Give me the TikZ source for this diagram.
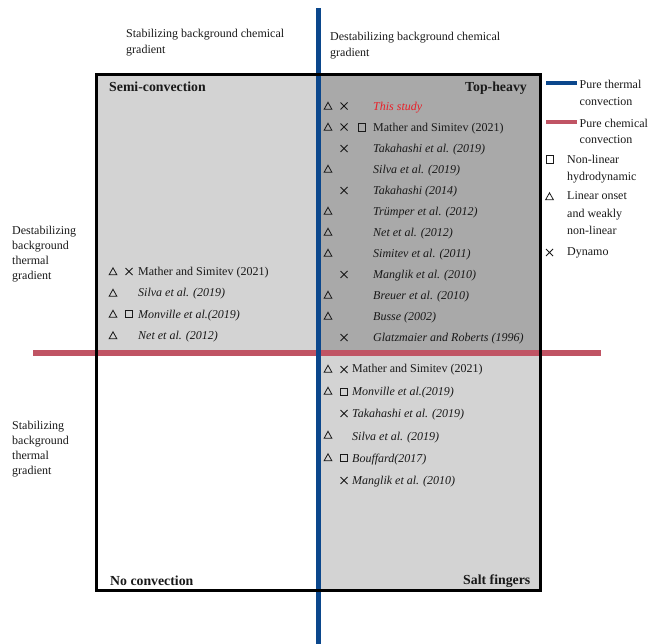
\documentclass[tikz,border=0pt]{standalone}
\usepackage{fontspec}
\setmainfont{Liberation Serif}
\definecolor{thermblue}{RGB}{11,71,140}
\definecolor{chemred}{RGB}{192,84,100}
\definecolor{lgray}{RGB}{211,211,211}
\definecolor{dgray}{RGB}{169,169,169}
\definecolor{studyred}{RGB}{232,32,40}
\definecolor{txtcol}{RGB}{25,25,25}
\begin{document}
\begin{tikzpicture}[x=1pt,y=-1pt,
  txt/.style={anchor=base west, inner sep=0pt, text=txtcol, font=\fontsize{12}{14}\selectfont},
  cit/.style={txt, font=\fontsize{12}{14}\selectfont\itshape},
  ttlw/.style={anchor=base west, inner sep=0pt, text=txtcol, font=\fontsize{13.8}{16}\selectfont\bfseries},
  ttle/.style={anchor=base east, inner sep=0pt, text=txtcol, font=\fontsize{13.8}{16}\selectfont\bfseries},
  sym/.style={line width=0.8pt, draw=txtcol},
  tri/.pic={\draw[sym,pic actions] (-3.9,3.3) -- (3.9,3.3) -- (0,-3.7) -- cycle;},
  crs/.pic={\draw[sym,pic actions] (-3.5,-3.5) -- (3.5,3.5) (-3.5,3.5) -- (3.5,-3.5);},
  sqr/.pic={\draw[sym,pic actions] (-3.6,-3.6) rectangle (3.6,3.6);},
  red/.style={draw=studyred}
]
\useasboundingbox (0,0) rectangle (648,644);
% quadrant fills
\fill[lgray] (96.7,74.3) rectangle (318.3,352.7);
\fill[dgray] (318.3,74.3) rectangle (540.7,352.7);
\fill[lgray] (318.3,352.7) rectangle (540.7,590.5);
% axes
\coordinate (rl) at (33.3,352.7);
\coordinate (rr) at (601,352.7);
\coordinate (bt) at (318.3,8.5);
\coordinate (bb) at (318.3,644);
\draw[chemred, line width=6pt] (rl) -- (rr);
\draw[thermblue, line width=5.4pt] (bt) -- (bb);
% frame
\draw[black, line width=2.5pt] (96.7,74.3) rectangle (540.7,590.5);

% top labels
\node[txt] (sc1) at (126,38) {Stabilizing background chemical};
\node[txt] (sc2) at (126,54) {gradient};
\node[txt] (dc1) at (330,41) {Destabilizing background chemical};
\node[txt] (dc2) at (330,57) {gradient};
% left labels
\node[txt] (dt1) at (12,234.5) {Destabilizing};
\node[txt] (dt2) at (12,249.5) {background};
\node[txt] (dt3) at (12,264.5) {thermal};
\node[txt] (dt4) at (12,279.5) {gradient};
\node[txt] (st1) at (12,429.5) {Stabilizing};
\node[txt] (st2) at (12,444.5) {background};
\node[txt] (st3) at (12,459.5) {thermal};
\node[txt] (st4) at (12,474.5) {gradient};

% quadrant titles
\node[ttlw] (semi) at (109,92) {Semi-convection};
\node[ttle] (top) at (527,92) {Top-heavy};
\node[ttlw] (noc) at (110,585) {No convection};
\node[ttle] (salt) at (530.5,584) {Salt fingers};

% top-right entries
\pic[red] at (328,106) {tri}; \pic[red] at (344,106) {crs};
\node[cit, text=studyred] (tr0) at (373,110.5) {This study};
\pic at (328,127) {tri}; \pic at (344,127) {crs}; \pic at (362,127.5) {sqr};
\node[txt] (tr1) at (373,131.5) {Mather and Simitev (2021)};
\pic at (344,148.5) {crs};
\node[cit] (tr2) at (373,152.5) {Takahashi et al. (2019)};
\pic at (328,169) {tri};
\node[cit] (tr3) at (373,173.5) {Silva et al. (2019)};
\pic at (344,190.5) {crs};
\node[cit] (tr4) at (373,194.5) {Takahashi (2014)};
\pic at (328,211) {tri};
\node[cit] (tr5) at (373,215.5) {Trümper et al. (2012)};
\pic at (328,232) {tri};
\node[cit] (tr6) at (373,236.5) {Net et al. (2012)};
\pic at (328,253) {tri};
\node[cit] (tr7) at (373,257.5) {Simitev et al. (2011)};
\pic at (344,274.5) {crs};
\node[cit] (tr8) at (373,278.5) {Manglik et al. (2010)};
\pic at (328,295) {tri};
\node[cit] (tr9) at (373,299.5) {Breuer et al. (2010)};
\pic at (328,316) {tri};
\node[cit] (tr10) at (373,320.5) {Busse (2002)};
\pic at (344,337.5) {crs};
\node[cit] (tr11) at (373,341.5) {Glatzmaier and Roberts (1996)};

% top-left entries
\pic at (113,271.5) {tri}; \pic at (129,271.5) {crs};
\node[txt] (tl0) at (138,275.7) {Mather and Simitev (2021)};
\pic at (113,293) {tri};
\node[cit] (tl1) at (138,296.9) {Silva et al. (2019)};
\pic at (113,314) {tri}; \pic at (129,314.2) {sqr};
\node[cit] (tl2) at (138,318.1) {Monville et al.(2019)};
\pic at (113,335.5) {tri};
\node[cit] (tl3) at (138,339.5) {Net et al. (2012)};

% bottom-right entries
\pic at (328,369) {tri}; \pic at (344,369.5) {crs};
\node[txt] (br0) at (352,373) {Mather and Simitev (2021)};
\pic at (328,391) {tri}; \pic at (344,391.7) {sqr};
\node[cit] (br1) at (352,395.7) {Monville et al.(2019)};
\pic at (344,413.5) {crs};
\node[cit] (br2) at (352,417) {Takahashi et al. (2019)};
\pic at (328,435) {tri};
\node[cit] (br3) at (352,440.5) {Silva et al. (2019)};
\pic at (328,457.5) {tri}; \pic at (344,458) {sqr};
\node[cit] (br4) at (352,462) {Bouffard(2017)};
\pic at (344,480.5) {crs};
\node[cit] (br5) at (352,484) {Manglik et al. (2010)};

% legend
\coordinate (lb1) at (546,83.5); \coordinate (lb2) at (577,83.5);
\draw[thermblue, line width=4pt] (lb1) -- (lb2);
\node[txt] (lg1) at (579.5,89) {Pure thermal};
\node[txt] (lg2) at (579.5,106) {convection};
\coordinate (lr1) at (546,121.7); \coordinate (lr2) at (577,121.7);
\draw[chemred, line width=4pt] (lr1) -- (lr2);
\node[txt] (lg3) at (579.5,127.3) {Pure chemical};
\node[txt] (lg4) at (579.5,144) {convection};
\pic at (549.5,159.5) {sqr};
\node[txt] (lg5) at (567,164) {Non-linear};
\node[txt] (lg6) at (567,181) {hydrodynamic};
\pic at (549.5,196.5) {tri};
\node[txt] (lg7) at (567,200) {Linear onset};
\node[txt] (lg8) at (567,218) {and weakly};
\node[txt] (lg9) at (567,234.7) {non-linear};
\pic at (549.5,252.5) {crs};
\node[txt] (lg10) at (567,256) {Dynamo};
\end{tikzpicture}
\end{document}
